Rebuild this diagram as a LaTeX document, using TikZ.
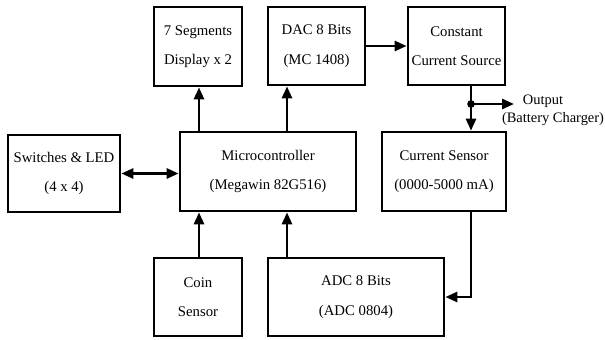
\documentclass[tikz,border=0pt]{standalone}
\usepackage{fontspec}
\setmainfont{Liberation Serif}
\usetikzlibrary{arrows.meta}
\begin{document}
\begin{tikzpicture}[x=1bp,y=-1bp,
  blk/.style={draw, line width=2.7bp, inner sep=0pt, align=center,
    font=\fontsize{14.8}{29.5}\selectfont},
  lbl/.style={inner sep=0pt, font=\fontsize{14.5}{17}\selectfont},
  tip/.tip={Triangle[length=12bp,width=10bp]},
  conn/.style={line width=2.7bp, -tip},
  dconn/.style={line width=2.7bp, tip-tip},
]
\useasboundingbox (0,0) rectangle (605,339);
% blocks
\node[blk, minimum width=88bp, minimum height=79bp] (seg) at (198,46.5) {7 Segments\\Display x 2};
\node[blk, minimum width=97bp, minimum height=78bp] (dac) at (316.5,46) {DAC 8 Bits\\(MC 1408)};
\node[blk, minimum width=97bp, minimum height=78bp] (con) at (456.5,46) {Constant\\Current Source};
\node[blk, minimum width=112bp, minimum height=77bp] (sw) at (64,173.5) {Switches \& LED\\(4 x 4)};
\node[blk, minimum width=176bp, minimum height=79bp] (mic) at (268,171.5) {Microcontroller\\(Megawin 82G516)};
\node[blk, minimum width=124bp, minimum height=79bp] (cs) at (444,171.5) {Current Sensor\\(0000-5000 mA)};
\node[blk, minimum width=88bp, minimum height=78bp] (coin) at (198,297) {Coin\\Sensor};
\node[blk, minimum width=176bp, minimum height=78bp] (adc) at (356,297) {ADC 8 Bits\\(ADC 0804)};
% output label
\node[lbl, anchor=base] (o1) at (543,104) {Output};
\node[lbl, anchor=base] (o2) at (553,122) {(Battery Charger)};
% helper coordinates
\coordinate (a1) at (199,0);
\coordinate (a2) at (287,0);
\coordinate (a3) at (471,0);
\coordinate (dot) at (471,104);
\coordinate (outend) at (514,104);
% connectors
\draw[conn] (mic.north -| a1) -- (seg.south -| a1);
\draw[conn] (mic.north -| a2) -- (dac.south -| a2);
\draw[conn] (coin.north -| a1) -- (mic.south -| a1);
\draw[conn] (adc.north -| a2) -- (mic.south -| a2);
\draw[conn] (dac.east) -- (con.west |- dac.east);
\draw[dconn] (sw.east) -- (sw.east -| mic.west);
\draw[conn] (con.south -| a3) -- (cs.north -| a3);
\fill (dot) circle (3.8bp);
\draw[conn] (dot) -- (outend);
\draw[conn] (cs.south -| a3) |- (adc.east);
\end{tikzpicture}
\end{document}
